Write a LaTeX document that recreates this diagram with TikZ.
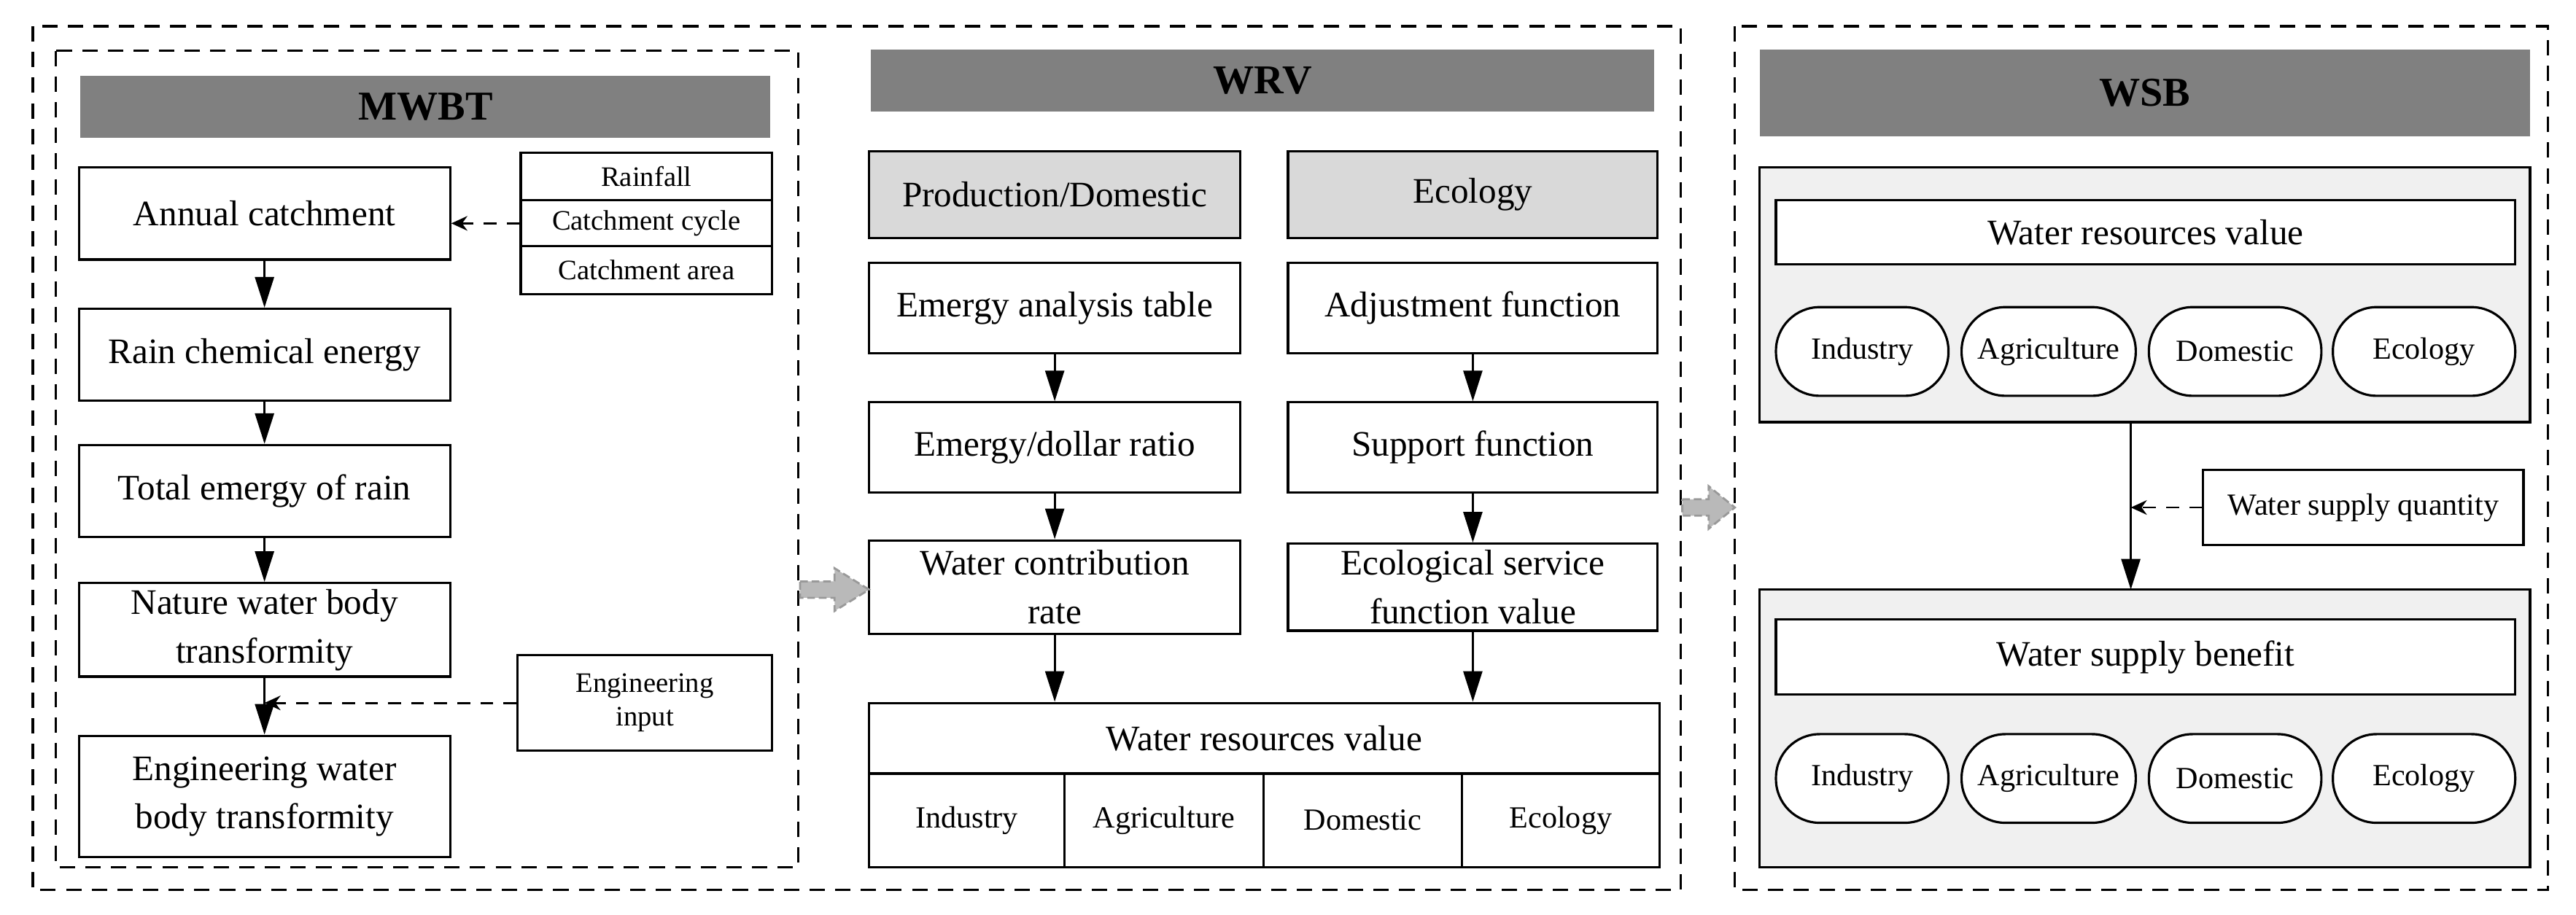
\documentclass[tikz,border=0pt]{standalone}
\usepackage{fontspec}
\setmainfont{Liberation Serif}
\usetikzlibrary{arrows.meta}
\definecolor{hdr}{HTML}{808080}
\definecolor{panel}{HTML}{F0F0F0}
\definecolor{sub}{HTML}{D9D9D9}
\newcommand\mybox[7][]{\node[box,#1,minimum width={(#5-#3)*0.022526cm},minimum height={(#6-#4)*0.022526cm}] (#2) at ({(#3+#5)/2},{(#4+#6)/2}) {#7};}
\begin{document}
\begin{tikzpicture}[x=0.022526cm,y=-0.022526cm,
  box/.style={draw,line width=0.9pt,inner sep=0pt,align=center,font=\fontsize{14}{19}\selectfont},
  hd/.style={fill=hdr,draw=none,font=\fontsize{16}{18}\selectfont\bfseries},
  sm/.style={font=\fontsize{11}{13}\selectfont},
  md/.style={font=\fontsize{12}{14}\selectfont},
  ov/.style={rounded corners=0.6cm},
  frame/.style={draw,dashed,line width=0.9pt,dash pattern=on 6pt off 4pt},
  arr/.style={-{Triangle[length=0.42cm,width=0.26cm]},line width=0.8pt},
  darr/.style={-{Stealth[length=0.22cm,width=0.2cm]},dashed,line width=0.8pt,dash pattern=on 5pt off 4pt},
  garr/.style={fill=gray!55,draw=gray!80,line width=0.8pt,dash pattern=on 3pt off 1.5pt}]
\useasboundingbox (0,0) rectangle (1568,557);
% frames
\draw[frame] (20,16) rectangle (1023,542);
\draw[frame] (34,31) rectangle (486,528);
\draw[frame] (1056,16) rectangle (1551,542);
% MWBT
\mybox[hd]{h1}{49}{46}{469}{84}{MWBT}
\mybox{ac}{48}{102}{274}{158}{Annual catchment}
\mybox{rc}{48}{188}{274}{244}{Rain chemical energy}
\mybox{te}{48}{271}{274}{327}{Total emergy of rain}
\mybox{nw}{48}{355}{274}{412}{Nature water body\\transformity}
\mybox{ew}{48}{448}{274}{522}{Engineering water\\body transformity}
\mybox[sm]{t1}{317}{93}{470}{122}{Rainfall}
\mybox[sm]{t2}{317}{122}{470}{150}{Catchment cycle}
\mybox[sm]{t3}{317}{150}{470}{179}{Catchment area}
\mybox[sm]{ei}{315}{399}{470}{457}{Engineering\\input}
\draw[arr] (ac) -- (rc);
\draw[arr] (rc) -- (te);
\draw[arr] (te) -- (nw);
\draw[arr] (nw) -- (ew);
\draw[darr] (t2.west) -- (ac.east |- t2.west);
\coordinate (j1) at (nw.south |- ei.west);
\draw[darr] (ei.west) -- (j1);
% WRV
\mybox[hd]{h2}{530}{30}{1007}{68}{WRV}
\mybox[fill=sub]{pd}{529}{92}{755}{145}{Production/Domestic}
\mybox[fill=sub]{eh}{784}{92}{1009}{145}{Ecology}
\mybox{eat}{529}{160}{755}{215}{Emergy analysis table}
\mybox{adj}{784}{160}{1009}{215}{Adjustment function}
\mybox{edr}{529}{245}{755}{300}{Emergy/dollar ratio}
\mybox{sup}{784}{245}{1009}{300}{Support function}
\mybox{wcr}{529}{329}{755}{386}{Water contribution\\rate}
\mybox{esf}{784}{331}{1009}{384}{Ecological service\\function value}
\mybox{wrv}{529}{428}{1010}{471}{Water resources value}
\mybox[md]{c1}{529}{471}{648}{528}{Industry}
\mybox[md]{c2}{648}{471}{769}{528}{Agriculture}
\mybox[md]{c3}{769}{471}{890}{528}{Domestic}
\mybox[md]{c4}{890}{471}{1010}{528}{Ecology}
\draw[arr] (eat) -- (edr);
\draw[arr] (edr) -- (wcr);
\draw[arr] (wcr) -- (wcr.south |- wrv.north);
\draw[arr] (adj) -- (sup);
\draw[arr] (sup) -- (esf);
\draw[arr] (esf) -- (esf.south |- wrv.north);
% WSB
\mybox[hd]{h3}{1071}{30}{1540}{83}{WSB}
\mybox[fill=panel]{p1}{1071}{102}{1540}{257}{}
\mybox[fill=panel]{p2}{1071}{359}{1540}{528}{}
\mybox[fill=white]{r1}{1081}{122}{1531}{161}{Water resources value}
\mybox[fill=white,ov,md]{o1}{1081}{187}{1186}{241}{Industry}
\mybox[fill=white,ov,md]{o2}{1194}{187}{1300}{241}{Agriculture}
\mybox[fill=white,ov,md]{o3}{1308}{187}{1413}{241}{Domestic}
\mybox[fill=white,ov,md]{o4}{1420}{187}{1531}{241}{Ecology}
\mybox[fill=white]{r2}{1081}{377}{1531}{423}{Water supply benefit}
\mybox[fill=white,ov,md]{q1}{1081}{447}{1186}{501}{Industry}
\mybox[fill=white,ov,md]{q2}{1194}{447}{1300}{501}{Agriculture}
\mybox[fill=white,ov,md]{q3}{1308}{447}{1413}{501}{Domestic}
\mybox[fill=white,ov,md]{q4}{1420}{447}{1531}{501}{Ecology}
\mybox[md]{wsq}{1341}{286}{1536}{332}{Water supply quantity}
\coordinate (pt) at (1297,257);
\coordinate (pb) at (1297,359);
\draw[arr] (pt) -- (pb);
\coordinate (j2) at (1297,309);
\draw[darr] (wsq.west) -- (j2);
% gray block arrows
\draw[garr] (487,354) -- (508,354) -- (508,346) -- (529,359) -- (508,372) -- (508,364) -- (487,364) -- cycle;
\draw[garr] (1024,304) -- (1040,304) -- (1040,296) -- (1056,309) -- (1040,322) -- (1040,314) -- (1024,314) -- cycle;
\end{tikzpicture}
\end{document}
